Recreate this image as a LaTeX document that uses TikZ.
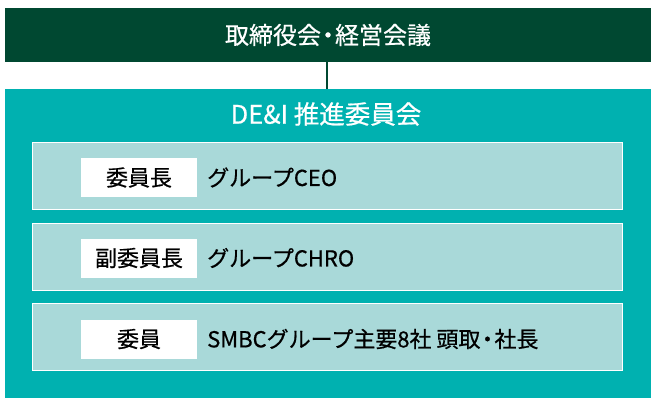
\documentclass[tikz,border=0pt]{standalone}
\usepackage{fontspec}
\setmainfont{Noto Sans CJK JP}[FakeBold=0.6]
\definecolor{dkgreen}{RGB}{0,72,49}
\definecolor{teal1}{RGB}{0,177,176}
\definecolor{ltteal}{RGB}{169,217,217}
\begin{document}
\begin{tikzpicture}[x=1pt,y=-1pt,
  titlebox/.style={fill=dkgreen,draw=none,minimum width=646pt,minimum height=54pt,inner sep=0pt,text=white,font=\fontsize{24}{27}\selectfont},
  outerbox/.style={fill=teal1,draw=none,minimum width=646pt,minimum height=309pt,inner sep=0pt},
  rowbox/.style={fill=ltteal,draw=white,line width=1.6pt,minimum width=590pt,minimum height=67pt,inner sep=0pt},
  labelbox/.style={fill=white,draw=none,minimum width=116pt,minimum height=39pt,inner sep=0pt,font=\fontsize{22}{25}\selectfont},
  rowtext/.style={anchor=west,inner sep=0pt,font=\fontsize{22}{25}\selectfont},
  conn/.style={draw=dkgreen,line width=2.6pt}]
\useasboundingbox (0,0) rectangle (657,404);
\node[titlebox] (top) at (328,35) {取締役会\kern-5pt・\kern-5pt経営会議};
\node[outerbox] (dei) at (328,243.5) {};
\node[text=white,inner sep=0pt,font=\fontsize{25.5}{28}\selectfont] (deititle) at (326,114) {DE\&I 推進委員会};
\draw[conn] (top.south -| 327,0) -- (dei.north -| 327,0);
\node[rowbox] (r1) at (327.5,176) {};
\node[rowbox] (r2) at (327.5,257) {};
\node[rowbox] (r3) at (327.5,337) {};
\node[labelbox] (l1) at (139,177.5) {委員長};
\node[labelbox] (l2) at (139,258) {副委員長};
\node[labelbox] (l3) at (139,339) {委員};
\node[rowtext] (t1) at (207,177.5) {グループCEO};
\node[rowtext] (t2) at (207,258) {グループCHRO};
\node[rowtext] (t3) at (207,339) {SMBCグループ主要8社 頭取\kern-4pt・\kern-4pt社長};
\end{tikzpicture}
\end{document}
